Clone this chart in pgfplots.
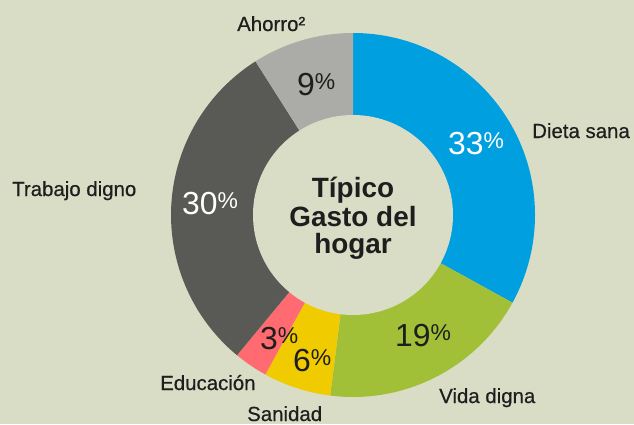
\documentclass[border=0pt]{standalone}
\usepackage{pgfplots}
\pgfplotsset{compat=1.18}
\usepackage{fontspec}
\setmainfont{Liberation Sans}
\newfontfamily\medfont[FakeBold=0.5]{Liberation Sans}

\definecolor{bgc}{HTML}{DADDC5}
\definecolor{cBlue}{HTML}{009FDF}
\definecolor{cGreen}{HTML}{A2C037}
\definecolor{cYellow}{HTML}{EFCB00}
\definecolor{cPink}{HTML}{FF6B70}
\definecolor{cDark}{HTML}{595955}
\definecolor{cLight}{HTML}{ABABA8}
\definecolor{txt}{HTML}{1E1E1E}

% wedge: #1 cumulative start (%), #2 share (%), #3 colour
\newcommand{\slice}[3]{%
  \fill[#3] (axis cs:353,209) -- (axis cs:{353+182*cos(90-3.6*#1)},{209+182*sin(90-3.6*#1)})
    arc[start angle={90-3.6*#1}, end angle={90-3.6*(#1+#2)}, radius=182bp] -- cycle;}
\newcommand{\pct}[1]{\fontsize{32}{32}\selectfont #1\raisebox{6bp}{\fontsize{23}{23}\selectfont\%}}

\begin{document}
\begin{tikzpicture}
\begin{axis}[
  x=1bp, y=1bp, xmin=0, xmax=634, ymin=0, ymax=424,
  hide axis, axis background/.style={fill=bgc},
  clip=false,
]
\slice{0}{33}{cBlue}
\slice{33}{19}{cGreen}
\slice{52}{6}{cYellow}
\slice{58}{3}{cPink}
\slice{61}{30}{cDark}
\slice{91}{9}{cLight}
\fill[bgc] (axis cs:353,209) circle[radius=100bp];

\begin{scope}[every node/.style={inner sep=0pt, anchor=base west, text=txt, font=\medfont\fontsize{20.5}{22}\selectfont}]
\node at (axis cs:237,393) {Ahorro²};
\node at (axis cs:532,286) {Dieta sana};
\node at (axis cs:12,228) {Trabajo digno};
\node at (axis cs:160,34) {Educación};
\node at (axis cs:247,3) {Sanidad};
\node at (axis cs:439,21) {Vida digna};
\end{scope}

\begin{scope}[every node/.style={inner sep=0pt, anchor=base west, text=txt}]
\node at (axis cs:297,329) {\pct{9}};
\node[text=white] at (axis cs:448,270) {\pct{33}};
\node at (axis cs:395,78) {\pct{19}};
\node at (axis cs:293,53) {\pct{6}};
\node at (axis cs:260,75) {\pct{3}};
\node[text=white] at (axis cs:182,210) {\pct{30}};
\end{scope}

\begin{scope}[every node/.style={inner sep=0pt, anchor=base, text=txt, font=\fontsize{28}{28}\selectfont\bfseries}]
\node at (axis cs:353,227) {Típico};
\node at (axis cs:353,198) {Gasto del};
\node at (axis cs:353,171) {hogar};
\end{scope}
\end{axis}
\pgfresetboundingbox
\path[use as bounding box] (current axis.south west) rectangle (current axis.north east);
\end{tikzpicture}
\end{document}
